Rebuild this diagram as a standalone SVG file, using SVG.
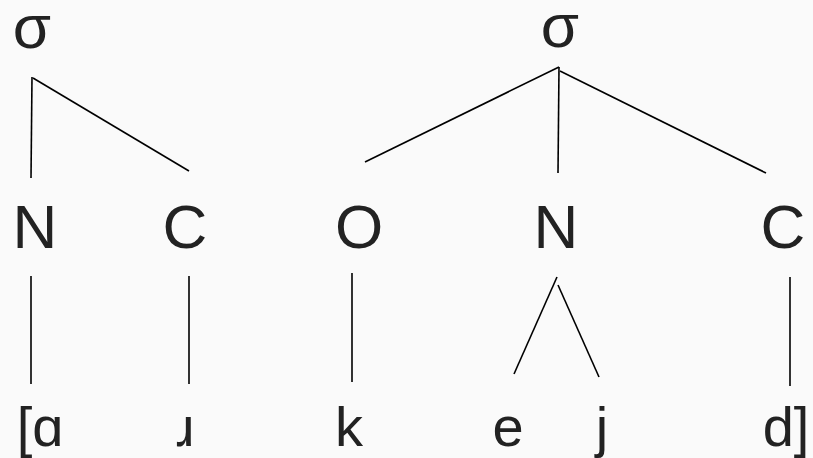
<svg xmlns="http://www.w3.org/2000/svg" width="813" height="458" viewBox="0 0 813 458">
<style>
.t{font-family:"Liberation Sans",Arial,sans-serif;font-size:62px;fill:#222;text-anchor:middle}
.b{font-family:"Liberation Sans",Arial,sans-serif;font-size:56px;fill:#222;text-anchor:middle}
.e{stroke:#000;stroke-width:1.6;fill:none}
</style>
<rect width="813" height="458" fill="#fafafa"/>
<g id="connectors">
<line class="e" x1="32" y1="77" x2="31" y2="178"/>
<line class="e" x1="33" y1="78" x2="189" y2="171"/>
<line class="e" x1="559" y1="67" x2="365" y2="162"/>
<line class="e" x1="559" y1="67" x2="558" y2="173"/>
<line class="e" x1="560" y1="71" x2="766" y2="173"/>
<line class="e" x1="31" y1="276" x2="31" y2="384"/>
<line class="e" x1="189" y1="276" x2="189" y2="384"/>
<line class="e" x1="352" y1="273" x2="352" y2="382"/>
<line class="e" x1="557" y1="277" x2="514" y2="374"/>
<line class="e" x1="558" y1="285" x2="599" y2="377"/>
<line class="e" x1="790" y1="277" x2="790" y2="386"/>
</g>
<g id="sigma1"><text class="t" x="32" y="48">σ</text></g>
<g id="sigma2"><text class="t" x="560" y="47">σ</text></g>
<g id="N1"><text class="t" x="35" y="248">N</text></g>
<g id="C1"><text class="t" x="185" y="248">C</text></g>
<g id="O"><text class="t" x="359" y="248">O</text></g>
<g id="N2"><text class="t" x="556" y="248">N</text></g>
<g id="C2"><text class="t" x="783" y="248">C</text></g>
<g id="a"><text class="b" x="40" y="446">[ɑ</text></g>
<g id="r"><text class="b" x="185" y="446">ɹ</text></g>
<g id="k"><text class="b" x="349" y="446">k</text></g>
<g id="e"><text class="b" x="508" y="446">e</text></g>
<g id="j"><text class="b" x="602" y="446">j</text></g>
<g id="d"><text class="b" x="786" y="446">d]</text></g>
</svg>
